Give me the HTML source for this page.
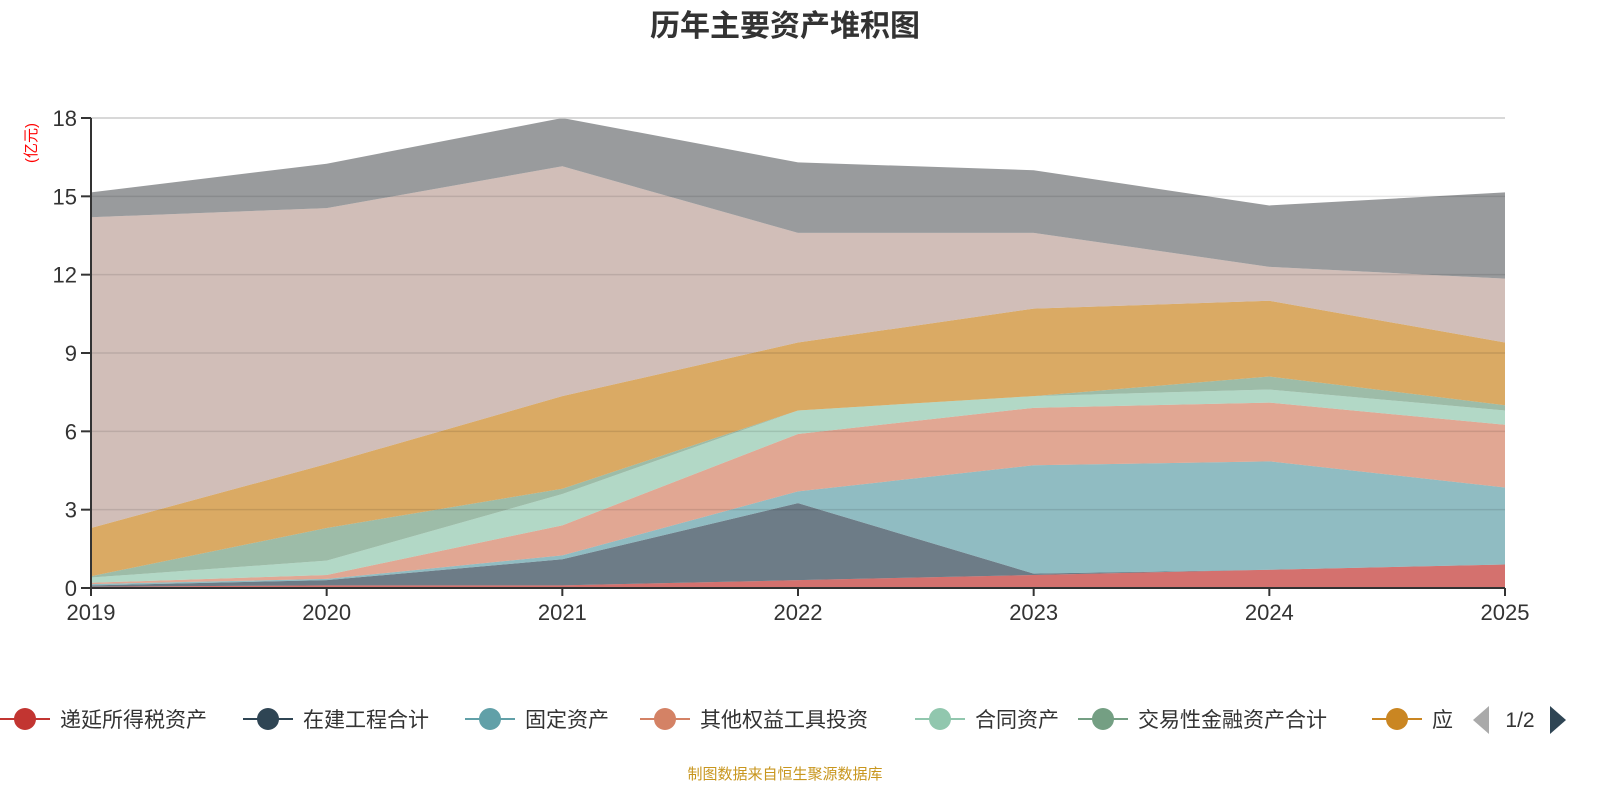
<!DOCTYPE html>
<html><head><meta charset="utf-8"><style>
body{margin:0;background:#fff;font-family:"Liberation Sans","Noto Sans CJK SC",sans-serif}
</style></head><body>
<svg id="c" width="1600" height="800" xmlns="http://www.w3.org/2000/svg">
<text x="785" y="36" text-anchor="middle" font-size="30" font-weight="bold" fill="#333" font-family="Liberation Sans,Noto Sans CJK SC,sans-serif">历年主要资产堆积图</text>
<text transform="translate(36,143) rotate(-90)" text-anchor="middle" font-size="15" fill="#ff0000" font-family="Liberation Sans,Noto Sans CJK SC,sans-serif">(亿元)</text>
<text x="785" y="779" text-anchor="middle" font-size="15" fill="#c8961e" font-family="Liberation Sans,Noto Sans CJK SC,sans-serif">制图数据来自恒生聚源数据库</text>
<g id="areas"></g><g id="grid"></g><g id="axes"></g><g id="legend"></g>
</svg>
<script>
const years=['2019','2020','2021','2022','2023','2024','2025'];
const yTicks=[0,3,6,9,12,15,18];
const seriesNames=['递延所得税资产','在建工程合计','固定资产','其他权益工具投资','合同资产','交易性金融资产合计','应收账款','货币资金','其他'];
const s1=[0.05,0.1,0.1,0.3,0.5,0.7,0.9];
const s2=[0.05,0.2,1.0,2.95,0.05,0,0];
const s3=[0.05,0.05,0.15,0.45,4.15,4.15,2.95];
const s4=[0.05,0.15,1.15,2.2,2.2,2.25,2.4];
const s5=[0.2,0.55,1.2,0.9,0.45,0.5,0.55];
const s6=[0.05,1.25,0.2,0,0,0.5,0.2];
const s7=[1.85,2.45,3.55,2.6,3.35,2.9,2.4];
const s8=[11.9,9.8,8.8,4.2,2.9,1.3,2.45];
const s9=[0.95,1.7,1.85,2.7,2.4,2.35,3.3];
const allSeries=[s1,s2,s3,s4,s5,s6,s7,s8,s9];
const colors=['#c23531','#2f4554','#61a0a8','#d48265','#91c7ae','#749f83','#ca8622','#bda29a','#6e7074'];
const X0=91,X1=1505,Y0=588,Y1=118,YMAX=18;
const xs=i=>X0+(X1-X0)*i/(years.length-1);
const ys=v=>Y0-(Y0-Y1)*v/YMAX;
const NS='http://www.w3.org/2000/svg';
function mk(t,a,p){const e=document.createElementNS(NS,t);for(const k in a)e.setAttribute(k,a[k]);p.appendChild(e);return e;}
const areas=document.getElementById('areas');
let base=years.map(()=>0);
allSeries.forEach((s,si)=>{
  const top=s.map((v,i)=>base[i]+v);
  let d='M'+years.map((_,i)=>xs(i)+','+ys(top[i])).join(' L');
  for(let i=years.length-1;i>=0;i--)d+=' L'+xs(i)+','+ys(base[i]);
  const p=mk('path',{d:d+'Z',fill:colors[si],'fill-opacity':0.7},areas);
  
  
  base=top;
});
const grid=document.getElementById('grid'),axes=document.getElementById('axes');
yTicks.forEach(t=>{
  const g=mk('line',{x1:X0,x2:X1,y1:ys(t),y2:ys(t),stroke:t===18?'#ccc':'rgba(0,0,0,0.1)','stroke-width':1.5},grid);
  
  
  mk('line',{x1:X0-10,x2:X0,y1:ys(t),y2:ys(t),stroke:'#333','stroke-width':2},axes);
  const tx=mk('text',{x:X0-14,y:ys(t)+8,'text-anchor':'end','font-size':22,fill:'#333'},axes);
  tx.textContent=t;
  
  
});
mk('line',{x1:X0,x2:X0,y1:Y1,y2:Y0,stroke:'#333','stroke-width':2},axes);
mk('line',{x1:X0,x2:X1,y1:Y0,y2:Y0,stroke:'#333','stroke-width':2},axes);
years.forEach((y,i)=>{
  mk('line',{x1:xs(i),x2:xs(i),y1:Y0,y2:Y0+8,stroke:'#333','stroke-width':2},axes);
  const tx=mk('text',{x:xs(i),y:Y0+32,'text-anchor':'middle','font-size':22,fill:'#333'},axes);
  tx.textContent=y;
  
  
});
const lg=document.getElementById('legend');
const lx=[25,268,490,665,940,1103,1397];
for(let i=0;i<7;i++){
  const g=mk('g',{},lg);
  
  
  mk('line',{x1:lx[i]-25,x2:lx[i]+25,y1:719,y2:719,stroke:colors[i],'stroke-width':2},g);
  mk('circle',{cx:lx[i],cy:719,r:11,fill:colors[i]},g);
  const t=mk('text',{x:lx[i]+35,y:727,'font-size':21,fill:'#333','font-family':'Liberation Sans,Noto Sans CJK SC,sans-serif'},g);
  t.textContent=i===6?'应':seriesNames[i];
}
const pl=mk('path',{d:'M1489,706 L1489,734 L1473,720Z',fill:'#aaa'},lg);


const pt=mk('text',{x:1520,y:727,'text-anchor':'middle','font-size':21,fill:'#333'},lg);
pt.textContent='1/2';


const pr=mk('path',{d:'M1550,706 L1550,734 L1566,720Z',fill:'#2f4554'},lg);


</script>
</body></html>
